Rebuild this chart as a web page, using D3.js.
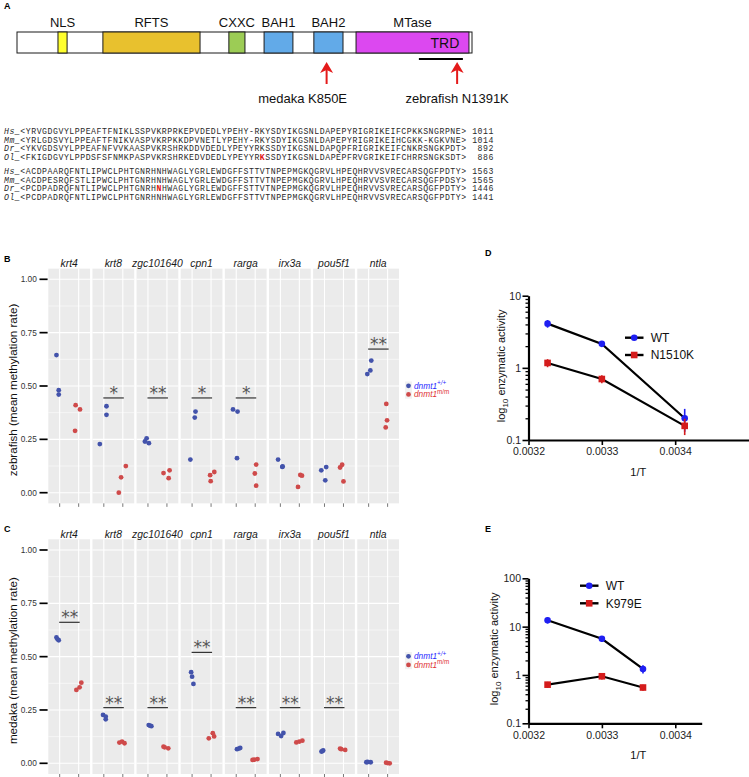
<!DOCTYPE html>
<html><head><meta charset="utf-8">
<script src="https://cdn.jsdelivr.net/npm/d3@7/dist/d3.min.js"></script>
<style>
body{margin:0;background:#fff;}
svg{display:block;font-family:'Liberation Sans',Arial,Helvetica,sans-serif;}
</style></head><body>
<svg id="fig" width="749" height="777" xmlns="http://www.w3.org/2000/svg"></svg>
<script>
// ================= DATA =================
// Panel A: domain architecture (residue coordinates)
const proteinLength = 1499;
const domainNames = ["NLS", "RFTS", "CXXC", "BAH1", "BAH2", "MTase"];
const domainStart = [135, 283, 698, 814, 978, 1117];
const domainEnd   = [165, 603, 751, 909, 1074, 1489];
const subDomainName = "TRD";
const subDomainRange = [1324, 1469];
const mutationLabels = ["medaka K850E", "zebrafish N1391K"];
const mutationSites = [1020, 1450];

// Panel A: alignment
const alignSpecies = ["Hs", "Mm", "Dr", "Ol"];
const alignBlock1 = [
  "YRVGDGVYLPPEAFTFNIKLSSPVKRPRKEPVDEDLYPEHY-RKYSDYIKGSNLDAPEPYRIGRIKEIFCPKKSNGRPNE",
  "YRLGDSVYLPPEAFTFNIKVASPVKRPKKDPVNETLYPEHY-RKYSDYIKGSNLDAPEPYRIGRIKEIHCGKK-KGKVNE",
  "YKVGDSVYLPPEAFNFVVKAASPVKRSHRKDDVDEDLYPEYYRKSSDYIKGSNLDAPQPFRIGRIKEIFCNKRSNGKPDT",
  "FKIGDGVYLPPDSFSFNMKPASPVKRSHRKEDVDEDLYPEYYRKSSDYIKGSNLDAPEPFRVGRIKEIFCHRRSNGKSDT"
];
const alignEnd1 = [1011, 1014, 892, 886];
const alignMark1 = [null, null, null, 43];
const alignBlock2 = [
  "ACDPAARQFNTLIPWCLPHTGNRHNHWAGLYGRLEWDGFFSTTVTNPEPMGKQGRVLHPEQHRVVSVRECARSQGFPDTY",
  "ACDPESRQFSTLIPWCLPHTGNRHNHWAGLYGRLEWDGFFSTTVTNPEPMGKQGRVLHPEQHRVVSVRECARSQGFPDSY",
  "PCDPADRQFNTLIPWCLPHTGNRHNHWAGLYGRLEWDGFFSTTVTNPEPMGKQGRVLHPEQHRVVSVRECARSQGFPDTY",
  "PCDPADRQFNTLIPWCLPHTGNRHNHWAGLYGRLEWDGFFSTTVTNPEPMGKQGRVLHPEQHRVVSVRECARSQGFPDTY"
];
const alignEnd2 = [1563, 1565, 1446, 1441];
const alignMark2 = [null, null, 24, null];

// Panels B / C: methylation rates
const genes = ["krt4", "krt8", "zgc101640", "cpn1", "rarga", "irx3a", "pou5f1", "ntla"];
const groups = ["wt", "mut"];
const legendBase = "dnmt1";
const legendSup = ["+/+", "m/m"];
const methTicks = [0, 0.25, 0.5, 0.75, 1];
const methTickLabels = ["0.00", "0.25", "0.50", "0.75", "1.00"];
const methMinor = [0.125, 0.375, 0.625, 0.875];

const zfWT = [[0.645,0.48,0.46],[0.228,0.405,0.365],[0.24,0.255,0.232],[0.155,0.38,0.352],[0.39,0.38,0.162],[0.155,0.123,0.121],[0.105,0.12,0.058],[0.619,0.573,0.556]];
const zfWTJitter = [[-0.17,-0.05,-0.05],[-0.21,0.14,0.14],[-0.16,-0.07,0.05],[-0.09,0.18,0.14],[-0.17,0.07,0.04],[-0.12,0.12,0.1],[-0.17,0.09,0.04],[0.14,0.09,-0.07]];
const zfMut = [[0.41,0.39,0.29],[0.0,0.072,0.125],[0.092,0.105,0.068],[0.082,0.097,0.054],[0.132,0.09,0.033],[0.083,0.08,0.027],[0.118,0.131,0.053],[0.416,0.339,0.306]];
const zfMutJitter = [[-0.16,0.07,-0.19],[-0.21,-0.09,0.16],[-0.18,0.14,0.09],[-0.05,0.17,-0.02],[0.05,-0.02,0.05],[0.05,0.14,-0.07],[-0.18,-0.07,0],[-0.07,-0.03,-0.1]];
const zfSig = ["", "*", "**", "*", "*", "", "", "**"];
const zfSigY = [null, 0.444, 0.444, 0.444, 0.444, null, null, 0.673];

const mdWT = [[0.59,0.581,0.577],[0.227,0.219,0.206],[0.179,0.177,0.174],[0.427,0.406,0.372],[0.066,0.069,0.072],[0.1375,0.128,0.142],[0.055,0.06,0.057],[0.005,0.005,0.006]];
const mdWTJitter = [[-0.17,-0.11,-0.05],[-0.04,0.1,0.1],[0.04,0.1,0.18],[-0.05,0,0.07],[0.04,0.14,0.21],[-0.12,0.04,0.16],[-0.16,-0.07,-0.12],[-0.12,0.11,-0.05]];
const mdMut = [[0.344,0.356,0.378],[0.097,0.102,0.094],[0.078,0.07,0.075],[0.117,0.141,0.126],[0.016,0.02,0.017],[0.098,0.102,0.106],[0.069,0.0625,0.066],[0.003,0.0,0.001]];
const mdMutJitter = [[-0.12,0.05,0.14],[-0.18,-0.04,0.09],[-0.18,0.07,-0.12],[-0.12,0.09,0.16],[-0.14,0.12,-0.05],[-0.16,0,0.16],[-0.18,0.09,-0.12],[-0.08,0.11,0]];
const mdSig = ["**", "**", "**", "**", "**", "**", "**", ""];
const mdSigY = [0.661, 0.261, 0.261, 0.52, 0.261, 0.261, 0.261, null];

// Panels D / E: Arrhenius plots
const xTicksT = [0.0032, 0.0033, 0.0034];
const xTickLabelsT = ["0.0032", "0.0033", "0.0034"];
const invT_D = [0.003226, 0.0033, 0.003413];
const dWT = [4.1, 2.15, 0.2];
const dWTErr = [0.5, 0.14, 0.07];
const dMut = [1.17, 0.70, 0.157];
const dMutErr = [0.15, 0.09, 0.04];
const dSeriesNames = ["WT", "N1510K"];
const dYTicks = [0.1, 1, 10];
const dYTickLabels = ["0.1", "1", "10"];

const invT_E = [0.003226, 0.0033, 0.003356];
const eWT = [13.6, 5.6, 1.33];
const eWTErr = [2.0, 0.8, 0.26];
const eMut = [0.63, 0.94, 0.55];
const eMutErr = [0.09, 0.13, 0.08];
const eSeriesNames = ["WT", "K979E"];
const eYTicks = [0.1, 1, 10, 100];
const eYTickLabels = ["0.1", "1", "10", "100"];

// ================= STYLE =================
const SANS = "'Liberation Sans', Arial, Helvetica, sans-serif";
const MONO = "'Liberation Mono', 'Courier New', monospace";
const domainColors = ["#ffff2e", "#e8c12e", "#9ccc55", "#62aae8", "#62aae8", "#dc48f0"];
const ptBlue = "#4353ab", ptRed = "#cf4a4a";
const legBlue = "#2a2aff", legRed = "#e03535";
const lineBlue = "#1f1ff2", lineRed = "#d41c1c";

const svg = d3.select("#fig");

// panel letters
[["A",4,9],["B",4,261.5],["C",4,531.5],["D",485,256],["E",485,531.5]].forEach(([t,x,y]) =>
  svg.append("text").attr("x",x).attr("y",y).attr("font-size",9).attr("font-weight","bold").attr("fill","#000").text(t));

// ================= PANEL A =================
(function(){
  const xA = d3.scaleLinear().domain([0, proteinLength]).range([17, 472]);
  const g = svg.append("g");
  const by = 32, bh = 21;
  g.append("rect").attr("x", xA(0)).attr("y", by).attr("width", xA(proteinLength) - xA(0)).attr("height", bh)
    .attr("fill", "#fff").attr("stroke", "#1a1a1a").attr("stroke-width", 1);
  domainNames.forEach((n, i) => {
    g.append("rect").attr("x", xA(domainStart[i])).attr("y", by)
      .attr("width", xA(domainEnd[i]) - xA(domainStart[i])).attr("height", bh)
      .attr("fill", domainColors[i]).attr("stroke", "#1a1a1a").attr("stroke-width", 1);
    g.append("text").attr("x", (xA(domainStart[i]) + xA(domainEnd[i])) / 2).attr("y", 27)
      .attr("text-anchor", "middle").attr("font-size", 13).attr("fill", "#111").text(n);
  });
  const sc = (xA(subDomainRange[0]) + xA(subDomainRange[1])) / 2;
  g.append("text").attr("x", sc + 4).attr("y", 48).attr("text-anchor", "middle").attr("font-size", 14).attr("fill", "#111").text(subDomainName);
  g.append("line").attr("x1", xA(subDomainRange[0])).attr("x2", xA(subDomainRange[1])).attr("y1", 59).attr("y2", 59)
    .attr("stroke", "#000").attr("stroke-width", 2);
  const labelDx = [-24, 0];
  mutationSites.forEach((s, i) => {
    const x = xA(s);
    g.append("line").attr("x1", x).attr("x2", x).attr("y1", 68).attr("y2", 84).attr("stroke", "#e41a1a").attr("stroke-width", 2);
    g.append("path").attr("d", `M${x},62 L${x-6.5},73 L${x},70 L${x+6.5},73 Z`).attr("fill", "#e41a1a");
    g.append("text").attr("x", x + labelDx[i]).attr("y", 102.5).attr("text-anchor", "middle").attr("font-size", 13).attr("fill", "#111").text(mutationLabels[i]);
  });

  function block(rows, ends, marks, y0) {
    rows.forEach((seq, i) => {
      const t = svg.append("text").attr("x", 4).attr("y", y0 + i * 8.6).attr("font-family", MONO)
        .attr("font-size", 8.2).attr("letter-spacing", 0.53).attr("fill", "#2a2a2a")
        .attr("xml:space", "preserve").style("white-space", "pre");
      t.append("tspan").attr("font-style", "italic").text(alignSpecies[i] + "_");
      const m = marks[i];
      if (m == null) t.append("tspan").text("<" + seq + ">");
      else {
        t.append("tspan").text("<" + seq.slice(0, m));
        t.append("tspan").attr("fill", "#e01010").attr("font-weight", "bold").text(seq[m]);
        t.append("tspan").text(seq.slice(m + 1) + ">");
      }
      t.append("tspan").text(" " + String(ends[i]).padStart(4, " "));
    });
  }
  block(alignBlock1, alignEnd1, alignMark1, 134.2);
  block(alignBlock2, alignEnd2, alignMark2, 174);
})();

// ================= PANELS B / C =================
function drawMeth(o) {
  const g = svg.append("g");
  const ppu = o.y0 - o.y1;
  const y = d3.scaleLinear().domain([-0.05, 1.05]).range([o.y0 + 0.05 * ppu, o.y1 - 0.05 * ppu]);
  const top = y(1.05), bot = y(-0.05);
  const xb = d3.scaleBand().domain(genes).range([48.3, 399]).paddingInner(0.054);
  const xi = d3.scalePoint().domain(groups).range([0, xb.bandwidth()]).padding(0.6);
  const st = xi.step();
  genes.forEach((gene, gi) => {
    const pg = g.append("g").attr("transform", `translate(${xb(gene)},0)`);
    pg.append("rect").attr("x", 0).attr("y", top).attr("width", xb.bandwidth()).attr("height", bot - top).attr("fill", "#ebebeb");
    methMinor.forEach(v => pg.append("line").attr("x1", 0).attr("x2", xb.bandwidth()).attr("y1", y(v)).attr("y2", y(v)).attr("stroke", "#fff").attr("stroke-width", 0.55));
    methTicks.forEach(v => pg.append("line").attr("x1", 0).attr("x2", xb.bandwidth()).attr("y1", y(v)).attr("y2", y(v)).attr("stroke", "#fff").attr("stroke-width", 1.1));
    groups.forEach(gr => {
      pg.append("line").attr("x1", xi(gr)).attr("x2", xi(gr)).attr("y1", top).attr("y2", bot).attr("stroke", "#fff").attr("stroke-width", 1.1);
      pg.append("line").attr("x1", xi(gr)).attr("x2", xi(gr)).attr("y1", bot).attr("y2", bot + 3.5).attr("stroke", "#555").attr("stroke-width", 0.8);
    });
    pg.append("text").attr("x", xb.bandwidth() / 2).attr("y", top - 1.2).attr("text-anchor", "middle")
      .attr("font-style", "italic").attr("font-size", 10.4).attr("fill", "#1a1a1a").text(gene);
    if (o.sig[gi]) {
      const ly = y(o.sigY[gi]);
      pg.append("line").attr("x1", xi(groups[0]) - 0.5).attr("x2", xi(groups[1]) + 1).attr("y1", ly).attr("y2", ly).attr("stroke", "#333").attr("stroke-width", 1.2);
      pg.append("text").attr("x", (xi(groups[0]) + xi(groups[1])) / 2 + 0.5).attr("y", ly + 1).attr("text-anchor", "middle")
        .attr("font-family", "'DejaVu Sans', sans-serif").attr("font-size", 17).attr("fill", "#555").text(o.sig[gi]);
    }
    const sets = [[o.mut[gi], o.mutJ[gi], groups[1], ptRed], [o.wt[gi], o.wtJ[gi], groups[0], ptBlue]];
    sets.forEach(([vals, jit, gr, col]) => {
      vals.forEach((v, k) => pg.append("circle").attr("cx", xi(gr) + jit[k] * st).attr("cy", y(v)).attr("r", 2.4).attr("fill", col));
    });
  });
  // y axis
  methTicks.forEach((v, i) => {
    g.append("line").attr("x1", 39.5).attr("x2", 47.6).attr("y1", y(v)).attr("y2", y(v)).attr("stroke", "#000").attr("stroke-width", 1.7);
    g.append("text").attr("x", 36.8).attr("y", y(v) + 3).attr("text-anchor", "end").attr("font-size", 8.3).attr("fill", "#333").text(methTickLabels[i]);
  });
  const cy = (top + bot) / 2 + 4;
  g.append("text").attr("transform", `translate(16.5,${cy}) rotate(-90)`).attr("text-anchor", "middle")
    .attr("font-size", 11.6).attr("fill", "#111").text(o.title);
  // legend
  const ly = o.legendY;
  [0, 1].forEach(k => {
    const yy = ly + k * 8.6;
    g.append("rect").attr("x", 405).attr("y", yy - 4.3).attr("width", 7).attr("height", 8.6).attr("fill", "#f2f2f2");
    g.append("circle").attr("cx", 408.5).attr("cy", yy).attr("r", 2.4).attr("fill", k ? ptRed : ptBlue);
    const t = g.append("text").attr("x", 414).attr("y", yy + 3).attr("font-size", 8.3).attr("font-style", "italic").attr("fill", k ? legRed : legBlue);
    t.append("tspan").text(legendBase);
    t.append("tspan").attr("dy", -3.5).attr("font-size", 6.3).attr("font-style", k ? "normal" : "italic").text(legendSup[k]);
  });
}

drawMeth({ y1: 279.3, y0: 492.7, wt: zfWT, wtJ: zfWTJitter, mut: zfMut, mutJ: zfMutJitter, sig: zfSig, sigY: zfSigY,
  title: "zebrafish (mean methylation rate)", legendY: 385.8 });
drawMeth({ y1: 550, y0: 763.3, wt: mdWT, wtJ: mdWTJitter, mut: mdMut, mutJ: mdMutJitter, sig: mdSig, sigY: mdSigY,
  title: "medaka (mean methylation rate)", legendY: 656.3 });

// ================= PANELS D / E =================
function drawArr(o) {
  const g = svg.append("g");
  const x = d3.scaleLinear().domain(o.xDomain).range(o.xRange);
  const y = d3.scaleLog().domain(o.yDomain).range(o.yRange);
  const x0 = o.xRange[0], y0 = o.yRange[0];
  const minors = [];
  for (let dec = o.yDomain[0]; dec < o.yDomain[1] * 0.999; dec *= 10)
    for (let k = 2; k <= 9; k++) minors.push(k * dec);
  g.append("g").attr("transform", `translate(${x0},0)`)
    .call(d3.axisLeft(y).tickValues(minors).tickSize(3).tickFormat("").tickSizeOuter(0))
    .call(s => { s.select(".domain").remove(); s.selectAll("line").attr("stroke", "#000").attr("stroke-width", 1.3); });
  g.append("g").attr("transform", `translate(${x0},0)`)
    .call(d3.axisLeft(y).tickValues(o.yTicks).tickSize(6).tickPadding(1.5).tickFormat((d, i) => o.yTickLabels[i]).tickSizeOuter(0))
    .call(s => {
      s.select(".domain").attr("stroke", "#000").attr("stroke-width", 2.2);
      s.selectAll("line").attr("stroke", "#000").attr("stroke-width", 1.6);
      s.selectAll("text").attr("font-size", 10.5).attr("font-family", SANS).attr("fill", "#222");
    });
  g.append("g").attr("transform", `translate(0,${y0})`)
    .call(d3.axisBottom(x).tickValues(xTicksT).tickSize(5).tickPadding(3).tickFormat((d, i) => xTickLabelsT[i]).tickSizeOuter(0))
    .call(s => {
      s.select(".domain").attr("stroke", "#000").attr("stroke-width", 2.2);
      s.selectAll("line").attr("stroke", "#000").attr("stroke-width", 1.6);
      s.selectAll("text").attr("font-size", 10.5).attr("font-family", SANS).attr("fill", "#222");
    });
  // y label
  const yl = g.append("text").attr("transform", `translate(${o.yLabelX},${(o.yRange[0] + o.yRange[1]) / 2 - 2}) rotate(-90)`)
    .attr("text-anchor", "middle").attr("font-size", 11).attr("fill", "#111");
  yl.append("tspan").text("log");
  yl.append("tspan").attr("font-size", 8).attr("dy", 3).text("10");
  yl.append("tspan").attr("dy", -3).text(" enzymatic activity");
  g.append("text").attr("x", 638.3).attr("y", y0 + 35.5).attr("text-anchor", "middle").attr("font-size", 11).attr("fill", "#111").text("1/T");

  const series = [[o.wt, o.wtErr, lineBlue, "circle"], [o.mut, o.mutErr, lineRed, "square"]];
  const line = d3.line().x((d, i) => x(o.xs[i])).y(d => y(d));
  series.forEach(([vals, err, col, shape]) => {
    g.append("path").datum(vals).attr("d", line).attr("fill", "none").attr("stroke", "#000").attr("stroke-width", 2.2);
  });
  series.forEach(([vals, err, col, shape]) => {
    vals.forEach((v, i) => {
      const cx = x(o.xs[i]);
      g.append("line").attr("x1", cx).attr("x2", cx).attr("y1", y(v + err[i])).attr("y2", y(Math.max(v - err[i], 0.101)))
        .attr("stroke", col).attr("stroke-width", 1.6);
      if (shape === "circle") g.append("circle").attr("cx", cx).attr("cy", y(v)).attr("r", 3.3).attr("fill", col);
      else g.append("rect").attr("x", cx - 3.3).attr("y", y(v) - 3.3).attr("width", 6.6).attr("height", 6.6).attr("fill", col);
    });
  });
  // legend
  o.names.forEach((n, k) => {
    const ly = o.legY[k];
    const lx = o.legX;
    g.append("line").attr("x1", lx).attr("x2", lx + 18.5).attr("y1", ly).attr("y2", ly).attr("stroke", "#000").attr("stroke-width", 2.4);
    const cx = lx + 9.2;
    if (k === 0) g.append("circle").attr("cx", cx).attr("cy", ly).attr("r", 3.3).attr("fill", lineBlue);
    else g.append("rect").attr("x", cx - 3.3).attr("y", ly - 3.3).attr("width", 6.6).attr("height", 6.6).attr("fill", lineRed);
    g.append("text").attr("x", lx + 25.7).attr("y", ly + 4.2).attr("font-size", 12).attr("fill", "#111").text(n);
  });
}

drawArr({ xDomain: [0.0032, 0.0035], xRange: [528.5, 748.5], yDomain: [0.1, 10], yRange: [440, 295.7],
  yTicks: dYTicks, yTickLabels: dYTickLabels, xs: invT_D, wt: dWT, wtErr: dWTErr, mut: dMut, mutErr: dMutErr,
  names: dSeriesNames, legX: 625, legY: [337.7, 355], yLabelX: 505 });
drawArr({ xDomain: [0.0032, 0.003436], xRange: [528.5, 701.7], yDomain: [0.1, 100], yRange: [723.3, 578.3],
  yTicks: eYTicks, yTickLabels: eYTickLabels, xs: invT_E, wt: eWT, wtErr: eWTErr, mut: eMut, mutErr: eMutErr,
  names: eSeriesNames, legX: 580, legY: [585.7, 603.3], yLabelX: 498 });
</script>
</body></html>
